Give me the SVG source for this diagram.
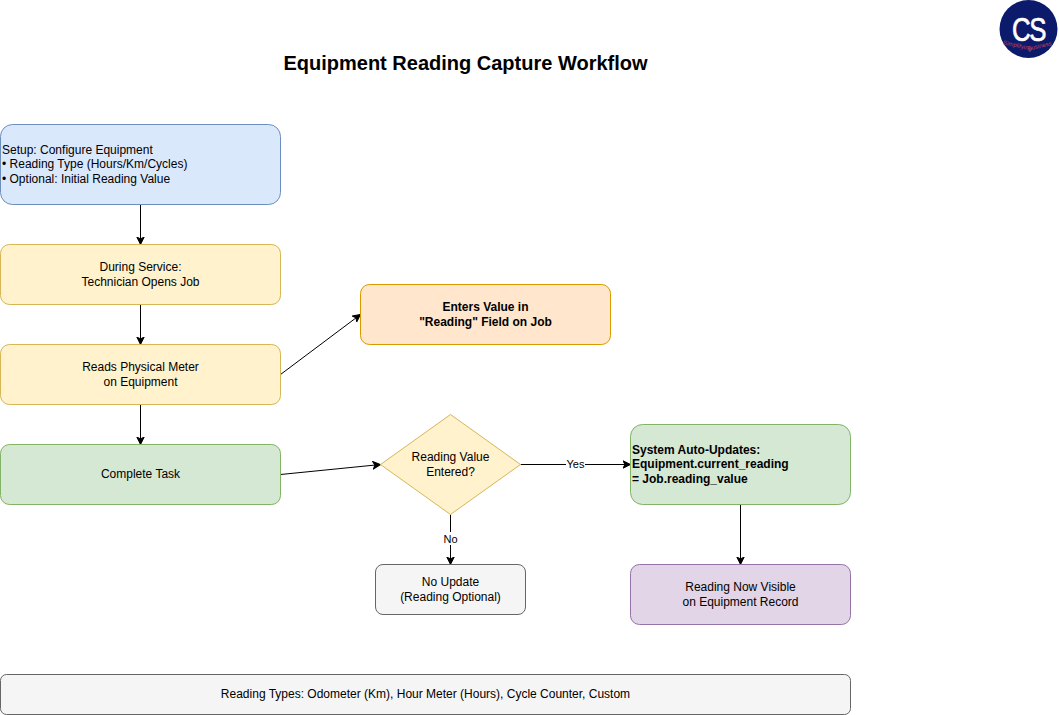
<svg xmlns="http://www.w3.org/2000/svg" width="1059" height="715" viewBox="0 0 1059 715">
<style>
text{font-family:"Liberation Sans",Arial,sans-serif;font-size:12px;fill:#000}
.c{text-anchor:middle}
.b{font-weight:bold}
.lbl{font-size:11px}
.tag{font-size:6px;fill:#c0405a;text-anchor:middle}
.blue{fill:#dae8fc;stroke:#6c8ebf}
.yellow{fill:#fff2cc;stroke:#d6b656}
.orange{fill:#ffe6cc;stroke:#d79b00}
.green{fill:#d5e8d4;stroke:#82b366}
.purple{fill:#e1d5e7;stroke:#9673a6}
.grey{fill:#f5f5f5;stroke:#666666}
.link{fill:none;stroke:#000;stroke-width:1;marker-end:url(#arrow)}
</style>
<defs>
<marker id="arrow" markerUnits="userSpaceOnUse" markerWidth="10" markerHeight="10" refX="8" refY="4.5" orient="auto">
<path d="M0.5 0.8L8 4.5L0.5 8.2L2.4 4.5Z" fill="#000" stroke="#000" stroke-width="1"/>
</marker>
</defs>
<rect width="1059" height="715" fill="#fff"/>
<text id="title" x="465.500" y="70" class="c b" style="font-size:20px">Equipment Reading Capture Workflow</text>
<g id="logo">
<circle cx="1028.500" cy="29" r="29" fill="#0b1a6b"/>
<text transform="translate(1028.500 41) scale(.76 1)" class="c" style="font-size:34px;fill:#fff;stroke:#fff;stroke-width:.7;letter-spacing:-2px">CS</text>
<text class="tag" transform="translate(1017 47.500) rotate(13)">Simplifying</text>
<text class="tag" transform="translate(1040 48) rotate(-13)">Business</text>
</g>
<g id="connectors">
<path class="link" d="M140.500 204.500V244.500"/>
<path class="link" d="M140.500 304.500V344.500"/>
<path class="link" d="M140.500 404.500V444.500"/>
<path class="link" d="M280.500 374.500L360.500 314.500"/>
<path class="link" d="M280.500 474.500L380.500 464.500"/>
<path class="link" d="M520.500 464.500H630.500"/>
<path class="link" d="M450.500 514.500V564.500"/>
<path class="link" d="M740.500 504.500V564.500"/>
<rect x="566" y="458" width="19" height="13" fill="#fff"/>
<text x="575.500" y="468" class="c lbl">Yes</text>
<rect x="443" y="532" width="15" height="13" fill="#fff"/>
<text x="450.500" y="543" class="c lbl">No</text>
</g>
<g id="setup">
<rect class="blue" x="0.500" y="124.500" width="280" height="80" rx="12" ry="12"/>
<text x="2" y="154">Setup: Configure Equipment</text>
<text x="2" y="168">• Reading Type (Hours/Km/Cycles)</text>
<text x="2" y="183">• Optional: Initial Reading Value</text>
</g>
<g id="during-service">
<rect class="yellow" x="0.500" y="244.500" width="280" height="60" rx="9" ry="9"/>
<text x="140.500" y="271" class="c">During Service:</text>
<text x="140.500" y="286" class="c">Technician Opens Job</text>
</g>
<g id="reads-meter">
<rect class="yellow" x="0.500" y="344.500" width="280" height="60" rx="9" ry="9"/>
<text x="140.500" y="371" class="c">Reads Physical Meter</text>
<text x="140.500" y="386" class="c">on Equipment</text>
</g>
<g id="enters-value">
<rect class="orange" x="360.500" y="284.500" width="250" height="60" rx="9" ry="9"/>
<text x="485.500" y="311" class="c b">Enters Value in</text>
<text x="485.500" y="326" class="c b">"Reading" Field on Job</text>
</g>
<g id="complete-task">
<rect class="green" x="0.500" y="444.500" width="280" height="60" rx="9" ry="9"/>
<text x="140.500" y="478" class="c">Complete Task</text>
</g>
<g id="decision">
<path class="yellow" d="M450.500 414.500L520.500 464.500L450.500 514.500L380.500 464.500Z"/>
<text x="450.500" y="461" class="c">Reading Value</text>
<text x="450.500" y="476" class="c">Entered?</text>
</g>
<g id="auto-update">
<rect class="green" x="630.500" y="424.500" width="220" height="80" rx="12" ry="12"/>
<text x="632" y="454" class="b">System Auto-Updates:</text>
<text x="632" y="468" class="b">Equipment.current_reading</text>
<text x="632" y="483" class="b">= Job.reading_value</text>
</g>
<g id="no-update">
<rect class="grey" x="375.500" y="564.500" width="150" height="50" rx="7.500" ry="7.500"/>
<text x="450.500" y="586" class="c">No Update</text>
<text x="450.500" y="601" class="c">(Reading Optional)</text>
</g>
<g id="reading-visible">
<rect class="purple" x="630.500" y="564.500" width="220" height="60" rx="9" ry="9"/>
<text x="740.500" y="591" class="c">Reading Now Visible</text>
<text x="740.500" y="606" class="c">on Equipment Record</text>
</g>
<g id="reading-types">
<rect class="grey" x="0.500" y="674.500" width="850" height="40" rx="6" ry="6"/>
<text x="425.500" y="698" class="c">Reading Types: Odometer (Km), Hour Meter (Hours), Cycle Counter, Custom</text>
</g>
</svg>
